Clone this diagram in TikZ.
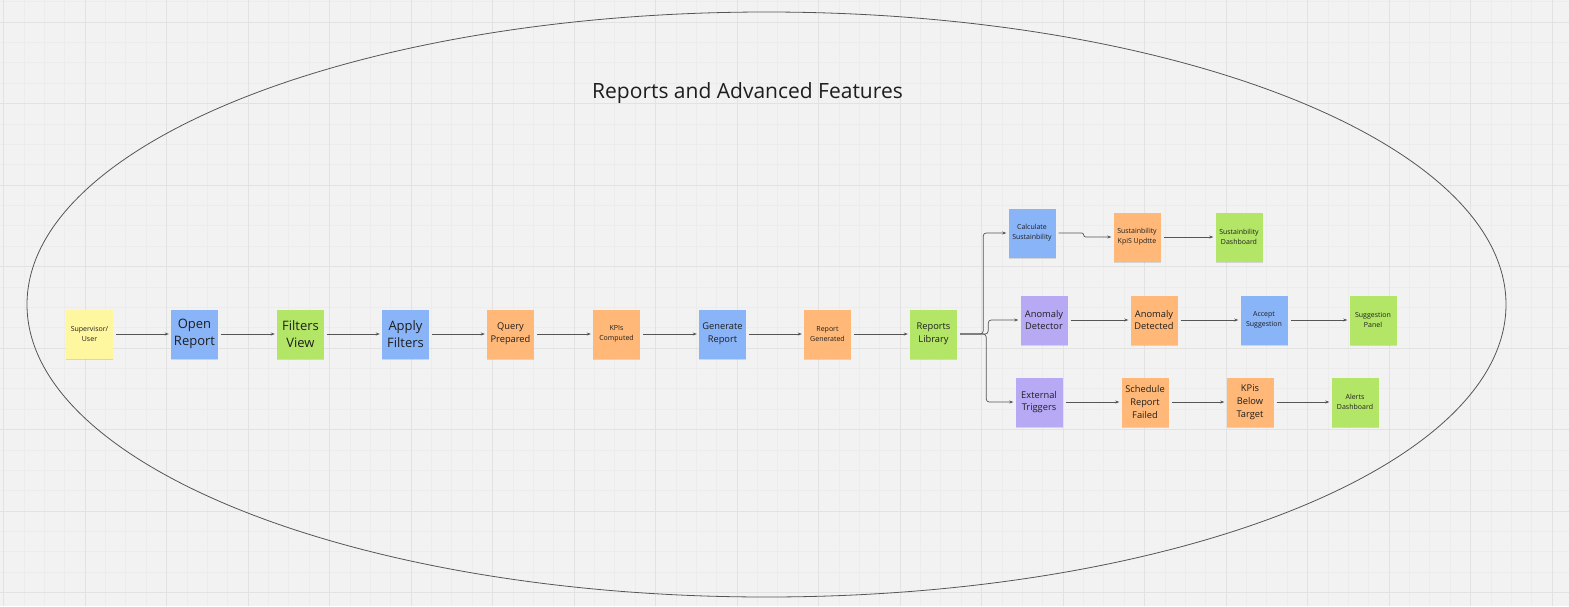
\documentclass[tikz,border=0pt]{standalone}
\usepackage{fontspec}
\setmainfont{Open Sans}
\usetikzlibrary{arrows.meta,shadows}
\definecolor{board}{HTML}{F2F2F2}
\definecolor{minorline}{HTML}{ECECEC}
\definecolor{majorline}{HTML}{E2E2E2}
\definecolor{noteyellow}{HTML}{FFF6A0}
\definecolor{noteblue}{HTML}{8AB4F8}
\definecolor{notegreen}{HTML}{B3E666}
\definecolor{noteorange}{HTML}{FFB877}
\definecolor{notepurple}{HTML}{B8A9F5}
\definecolor{wire}{HTML}{555555}
\definecolor{ink}{HTML}{1E1E1E}
\begin{document}
\begin{tikzpicture}[x=1pt, y=-1pt,
		note/.style={rectangle, minimum width=47pt, minimum height=49pt, inner sep=1pt, align=center, text=ink,
			drop shadow={shadow xshift=0pt, shadow yshift=-1.2pt, opacity=0.12, fill=black}},
		ynode/.style={note, fill=noteyellow},
		bnode/.style={note, fill=noteblue},
		gnode/.style={note, fill=notegreen},
		onode/.style={note, fill=noteorange},
		pnode/.style={note, fill=notepurple},
		txtL/.style={font=\fontsize{13}{17.5}\selectfont},
		txtM/.style={font=\fontsize{9.3}{12.8}\selectfont},
		txtS/.style={font=\fontsize{7}{10}\selectfont},
		arrow/.style={-{Stealth[length=4pt, width=3pt]}, draw=wire, line width=0.7pt, shorten <=3pt, shorten >=2pt}]
	% board and grid
	\fill[board] (0,0) rectangle (1569,606);
	\useasboundingbox (0,0) rectangle (1569,606);
	\foreach \i in {0,...,76} {\draw[minorline, line width=0.6pt] ({3.5+20.375*\i},0) -- ++(0,606);}
	\foreach \j in {0,...,29} {\draw[minorline, line width=0.6pt] (0,{1.625+20.375*\j}) -- ++(1569,0);}
	\foreach \i in {0,...,19} {\draw[majorline, line width=1pt] ({3.5+81.5*\i},0) -- ++(0,606);}
	\foreach \j in {0,...,7} {\draw[majorline, line width=1pt] (0,{22+81.5*\j}) -- ++(1569,0);}
	% frame
	\draw[wire, line width=0.8pt] (766.5,304.5) ellipse [x radius=739.5, y radius=292.5];
	\node[text=ink, font=\fontsize{21}{25}\selectfont] (title) at (747.5,93) {Reports and Advanced Features};
	% main flow
	\node[ynode, txtS] (1) at (89.5,334) {Supervisor/\\User};
	\node[bnode, txtL] (2) at (194.5,334) {Open\\Report};
	\node[gnode, txtL] (3) at (300.5,334) {Filters\\View};
	\node[bnode, txtL] (4) at (405.5,334) {Apply\\Filters};
	\node[onode, txtM] (5) at (510.5,334) {Query\\Prepared};
	\node[onode, txtS] (6) at (616.5,334) {KPIs\\Computed};
	\node[bnode, txtM] (7) at (722.5,334) {Generate\\Report};
	\node[onode, txtS] (8) at (827.5,334) {Report\\Generated};
	\node[gnode, txtM] (9) at (933.5,334) {Reports\\Library};
	% sustainability branch
	\node[bnode, txtS] (10) at (1032,233) {Calculate\\Sustainbility};
	\node[onode, txtS] (11) at (1137,237) {Sustainbility\\KpiS Updtte};
	\node[gnode, txtS] (12) at (1239,237) {Sustainbility\\Dashboard};
	% anomaly branch
	\node[pnode, txtM] (13) at (1044,320) {Anomaly\\Detector};
	\node[onode, txtM] (14) at (1154,320) {Anomaly\\Detected};
	\node[bnode, txtS] (15) at (1264,320) {Accept\\Suggestion};
	\node[gnode, txtS] (16) at (1373,320) {Suggestion\\Panel};
	% trigger branch
	\node[pnode, txtM] (17) at (1039,402) {External\\Triggers};
	\node[onode, txtM] (18) at (1145,402) {Schedule\\Report\\Failed};
	\node[onode, txtM] (19) at (1250,402) {KPis\\Below\\Target};
	\node[gnode, txtS] (20) at (1355,402) {Alerts\\Dashboard};
	\foreach \x/\y in {1/2,2/3,3/4,4/5,5/6,6/7,7/8,8/9,11/12,13/14,14/15,15/16,17/18,18/19,19/20} {
		\draw[arrow] (\x) -- (\y);
		}
	\draw[arrow, rounded corners=3pt] (9.east) -- ++(26,0) |- (10.west);
	\draw[arrow, rounded corners=3pt] (9.east) -- ++(31,0) |- (13.west);
	\draw[arrow, rounded corners=3pt] (9.east) -- ++(29,0) |- (17.west);
	\draw[arrow, rounded corners=2pt] (10.east) -- ++(28,0) |- (11.west);
\end{tikzpicture}
\end{document}
